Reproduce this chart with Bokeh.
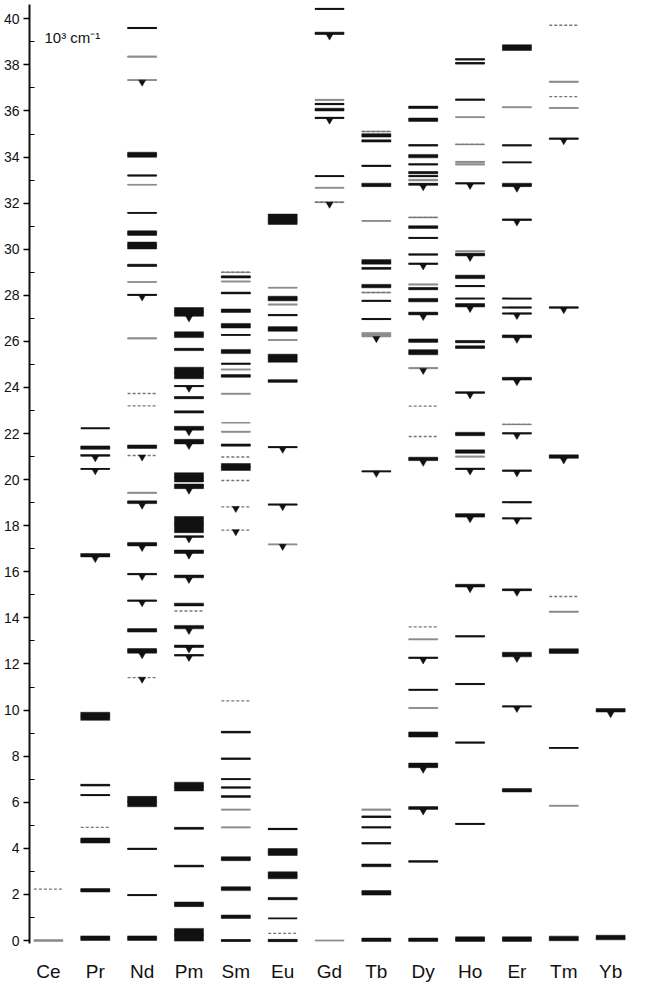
from bokeh.plotting import figure
from bokeh.models import ColumnDataSource, FixedTicker, Label, Range1d
from bokeh.embed import file_html
from bokeh.resources import INLINE

# Ion names (x categories)
ions = ["Ce", "Pr", "Nd", "Pm", "Sm", "Eu", "Gd", "Tb", "Dy", "Ho", "Er", "Tm", "Yb"]

# Levels per ion: (energy 10^3 cm^-1, multiplet spread 10^3 cm^-1, kind, emitting)
# kind: "s" solid, "g" grey, "d" dashed/dotted
Ce = [(0.0, 0.08, "g", 0), (2.23, 0, "d", 0)]
Pr = [(0.1, 0.2, "s", 0), (2.18, 0.15, "s", 0), (4.34, 0.22, "s", 0), (4.91, 0, "d", 0),
      (6.31, 0.05, "s", 0), (6.74, 0.08, "s", 0), (9.73, 0.35, "s", 0), (16.72, 0.15, "s", 1),
      (20.47, 0.03, "s", 1), (21.05, 0.06, "s", 1), (21.39, 0.15, "s", 0), (22.23, 0, "s", 0)]
Nd = [(0.1, 0.2, "s", 0), (1.97, 0.05, "s", 0), (3.98, 0.06, "s", 0), (6.03, 0.45, "s", 0),
      (11.41, 0, "d", 1), (12.57, 0.2, "s", 1), (13.46, 0.15, "s", 0), (14.75, 0.05, "s", 1),
      (15.9, 0.06, "s", 1), (17.2, 0.15, "s", 1), (19.02, 0.12, "s", 1), (19.43, 0.06, "g", 0),
      (21.05, 0, "d", 1), (21.43, 0.15, "s", 0), (23.2, 0, "d", 0), (23.74, 0, "d", 0),
      (26.13, 0.05, "g", 0), (28.02, 0.05, "s", 1), (28.58, 0.03, "g", 0), (29.3, 0.1, "s", 0),
      (30.16, 0.3, "s", 0), (30.7, 0.2, "s", 0), (31.58, 0.03, "s", 0), (32.8, 0.03, "g", 0),
      (33.2, 0.03, "s", 0), (34.1, 0.22, "s", 0), (37.34, 0.04, "g", 1), (38.36, 0.05, "g", 0),
      (39.6, 0.05, "s", 0)]
Pm = [(0.25, 0.55, "s", 0), (1.57, 0.2, "s", 0), (3.23, 0.08, "s", 0), (4.87, 0.08, "s", 0),
      (6.68, 0.38, "s", 0), (12.38, 0.05, "s", 1), (12.77, 0.1, "s", 1), (13.6, 0.15, "s", 1),
      (14.3, 0, "d", 0), (14.58, 0.12, "s", 0), (15.8, 0.12, "s", 1), (16.87, 0.15, "s", 1),
      (17.53, 0.06, "s", 1), (18.05, 0.7, "s", 0), (19.71, 0.2, "s", 1), (20.1, 0.4, "s", 0),
      (21.65, 0.2, "s", 1), (22.23, 0.17, "s", 1), (22.94, 0.1, "s", 0), (23.56, 0.1, "s", 0),
      (24.06, 0.05, "s", 1), (24.63, 0.5, "s", 0), (25.65, 0.1, "s", 0), (26.29, 0.25, "s", 0),
      (27.28, 0.38, "s", 1)]
Sm = [(0.0, 0.08, "s", 0), (1.03, 0.15, "s", 0), (2.25, 0.17, "s", 0), (3.55, 0.17, "s", 0),
      (4.91, 0.03, "g", 0), (5.68, 0.03, "g", 0), (6.25, 0.06, "s", 0), (6.64, 0.05, "s", 0),
      (7.0, 0.04, "s", 0), (7.89, 0.06, "s", 0), (9.04, 0.08, "s", 0), (10.4, 0, "d", 0),
      (17.81, 0, "d", 1), (18.82, 0, "d", 1), (19.96, 0, "d", 0), (20.55, 0.3, "s", 0),
      (20.98, 0, "d", 0), (21.5, 0.1, "s", 0), (22.08, 0.05, "g", 0), (22.47, 0, "g", 0),
      (23.73, 0.05, "g", 0), (24.5, 0.12, "s", 0), (24.78, 0.05, "g", 0), (25.03, 0.03, "s", 0),
      (25.56, 0.18, "s", 0), (26.28, 0.03, "s", 0), (26.68, 0.2, "s", 0), (27.33, 0.15, "s", 0),
      (28.1, 0.08, "s", 0), (28.6, 0.05, "g", 0), (28.8, 0.1, "s", 0), (29.0, 0.03, "d", 0)]
Eu = [(0.0, 0.1, "s", 0), (0.31, 0, "d", 0), (0.96, 0, "s", 0), (1.82, 0.1, "s", 0),
      (2.83, 0.3, "s", 0), (3.84, 0.3, "s", 0), (4.84, 0.06, "s", 0), (17.19, 0.03, "g", 1),
      (18.92, 0.04, "s", 1), (21.41, 0.04, "s", 1), (24.28, 0.12, "s", 0), (25.27, 0.35, "s", 0),
      (26.06, 0.05, "g", 0), (26.54, 0.2, "s", 0), (27.14, 0.06, "s", 0), (27.6, 0.05, "g", 0),
      (27.86, 0.2, "s", 0), (28.33, 0.03, "g", 0), (31.3, 0.45, "s", 0)]
Gd = [(0.0, 0.03, "g", 0), (32.04, 0.04, "d", 1), (32.67, 0.04, "g", 0), (33.17, 0.04, "s", 0),
      (35.7, 0.06, "s", 1), (36.06, 0.12, "s", 0), (36.3, 0.06, "s", 0), (36.48, 0.06, "g", 0),
      (39.37, 0.1, "s", 1), (40.43, 0.05, "s", 0)]
Tb = [(0.03, 0.15, "s", 0), (2.07, 0.2, "s", 0), (3.26, 0.12, "s", 0), (4.22, 0.05, "s", 0),
      (4.91, 0.05, "s", 0), (5.37, 0.06, "s", 0), (5.68, 0.05, "g", 0), (20.36, 0.03, "s", 1),
      (26.29, 0.2, "g", 1), (26.97, 0.05, "s", 0), (27.76, 0.05, "s", 0), (28.12, 0.03, "d", 0),
      (28.4, 0.15, "s", 0), (29.17, 0.08, "s", 0), (29.45, 0.2, "s", 0), (31.23, 0.04, "g", 0),
      (32.79, 0.15, "s", 0), (33.62, 0.06, "s", 0), (34.7, 0.1, "s", 0), (34.94, 0.15, "s", 0),
      (35.11, 0.03, "d", 0)]
Dy = [(0.03, 0.15, "s", 0), (3.43, 0.06, "s", 0), (5.75, 0.12, "s", 1), (7.6, 0.2, "s", 1),
      (8.94, 0.22, "s", 0), (10.09, 0.05, "g", 0), (10.88, 0.04, "s", 0), (12.27, 0.05, "s", 1),
      (13.07, 0.04, "g", 0), (13.61, 0, "d", 0), (20.9, 0.15, "s", 1), (21.87, 0, "d", 0),
      (23.19, 0, "d", 0), (24.84, 0.06, "g", 1), (25.53, 0.22, "s", 0), (26.03, 0.15, "s", 0),
      (27.21, 0.12, "s", 1), (27.79, 0.15, "s", 0), (28.29, 0.1, "s", 0), (28.47, 0.05, "g", 0),
      (29.37, 0.05, "s", 1), (29.77, 0.05, "s", 0), (30.49, 0.05, "s", 0), (30.96, 0.12, "s", 0),
      (31.38, 0.04, "d", 0), (32.82, 0.08, "s", 1), (33.0, 0.08, "g", 0), (33.17, 0.05, "s", 0),
      (33.32, 0.1, "s", 0), (33.68, 0.05, "s", 0), (34.04, 0.15, "s", 0), (34.51, 0.06, "s", 0),
      (35.62, 0.15, "s", 0), (36.16, 0.1, "s", 0)]
Ho = [(0.06, 0.2, "s", 0), (5.06, 0.05, "s", 0), (8.59, 0.05, "s", 0), (11.13, 0.05, "s", 0),
      (13.2, 0.05, "s", 0), (15.4, 0.12, "s", 1), (18.45, 0.15, "s", 1), (20.47, 0.05, "s", 1),
      (21.0, 0.05, "g", 0), (21.22, 0.15, "s", 0), (21.98, 0.15, "s", 0), (23.78, 0.06, "s", 1),
      (25.75, 0.12, "s", 0), (25.99, 0.1, "s", 0), (27.57, 0.15, "s", 1), (27.86, 0.03, "s", 0),
      (28.4, 0.05, "s", 0), (28.8, 0.15, "s", 0), (29.77, 0.12, "s", 1), (29.91, 0.05, "g", 0),
      (32.86, 0.05, "s", 1), (33.68, 0.05, "g", 0), (33.79, 0.05, "g", 0), (34.55, 0.04, "d", 0),
      (35.73, 0.04, "g", 0), (36.49, 0.05, "s", 0), (38.07, 0.06, "s", 0), (38.24, 0.06, "s", 0)]
Er = [(0.06, 0.2, "s", 0), (6.52, 0.15, "s", 0), (10.16, 0.04, "s", 1), (12.41, 0.2, "s", 1),
      (15.22, 0.08, "s", 1), (18.32, 0.04, "s", 1), (19.02, 0.04, "s", 0), (20.39, 0.05, "s", 1),
      (22.01, 0.05, "s", 1), (22.4, 0.03, "d", 0), (24.38, 0.12, "s", 1), (26.22, 0.12, "s", 1),
      (27.21, 0.04, "s", 1), (27.47, 0.03, "s", 0), (27.86, 0.03, "s", 0), (31.28, 0.06, "s", 1),
      (32.79, 0.15, "s", 1), (33.77, 0.03, "s", 0), (34.51, 0.05, "s", 0), (36.16, 0.05, "g", 0),
      (38.75, 0.25, "s", 0)]
Tm = [(0.09, 0.2, "s", 0), (5.85, 0.05, "g", 0), (8.36, 0.03, "s", 0), (12.56, 0.2, "s", 0),
      (14.27, 0.06, "g", 0), (14.93, 0, "d", 0), (21.0, 0.15, "s", 1), (27.47, 0.05, "s", 1),
      (34.8, 0.05, "s", 1), (36.13, 0.05, "g", 0), (36.62, 0, "d", 0), (37.27, 0.06, "g", 0),
      (39.72, 0, "d", 0)]
Yb = [(0.13, 0.2, "s", 0), (9.99, 0.15, "s", 1)]

y_ticks = list(range(0, 41, 2))
y_minor = list(range(1, 41, 2))

levels = [Ce, Pr, Nd, Pm, Sm, Eu, Gd, Tb, Dy, Ho, Er, Tm, Yb]

HALF = 0.31
styles = {"s": dict(color="#111111", dash="solid", lw=1.8),
          "g": dict(color="#8c8c8c", dash="solid", lw=1.6),
          "d": dict(color="#777777", dash="3 2", lw=1.4)}

p = figure(width=649, height=984, x_range=Range1d(-0.404, 12.574), y_range=Range1d(-0.13, 40.62),
           output_backend="svg", toolbar_location=None, title=None,
           min_border_left=27, min_border_right=12, min_border_top=4, min_border_bottom=35)
p.outline_line_color = None
p.grid.visible = False
p.background_fill_color = "white"

for kind, st in styles.items():
    seg = dict(x0=[], x1=[], y=[])
    qd = dict(left=[], right=[], top=[], bottom=[])
    for i, lv in enumerate(levels):
        for (e, s, k, f) in lv:
            if k != kind:
                continue
            seg["x0"].append(i - HALF); seg["x1"].append(i + HALF); seg["y"].append(e)
            if s > 0:
                qd["left"].append(i - HALF); qd["right"].append(i + HALF)
                qd["top"].append(e + s / 2); qd["bottom"].append(e - s / 2)
    if qd["left"]:
        p.quad(source=ColumnDataSource(qd), left="left", right="right", top="top", bottom="bottom",
               fill_color=st["color"], line_color=st["color"], line_width=0.5)
    p.segment(source=ColumnDataSource(seg), x0="x0", y0="y", x1="x1", y1="y",
              line_color=st["color"], line_width=st["lw"], line_dash=st["dash"])

mk = dict(x=[], y=[])
for i, lv in enumerate(levels):
    for (e, s, k, f) in lv:
        if f:
            mk["x"].append(i); mk["y"].append(e - s / 2 - 0.07)
p.scatter(source=ColumnDataSource(mk), x="x", y="y", marker="inverted_triangle", size=7,
          fill_color="#111111", line_color="#111111", line_width=0.5)

ya = p.yaxis[0]
ya.ticker = FixedTicker(ticks=y_ticks, minor_ticks=y_minor)
ya.axis_line_width = 2
ya.axis_line_color = "#111111"
ya.major_tick_out = 6
ya.major_tick_in = 0
ya.major_tick_line_width = 1.5
ya.minor_tick_in = 5
ya.minor_tick_out = 0
ya.minor_tick_line_width = 1.2
ya.major_label_text_font = "Liberation Sans"
ya.major_label_text_font_size = "14px"
ya.major_label_text_color = "#111111"
ya.major_label_standoff = 4

xa = p.xaxis[0]
xa.ticker = FixedTicker(ticks=list(range(len(ions))))
xa.major_label_overrides = {i: n for i, n in enumerate(ions)}
xa.axis_line_color = None
xa.major_tick_line_color = None
xa.minor_tick_line_color = None
xa.major_label_text_font = "Liberation Sans"
xa.major_label_text_font_size = "19px"
xa.major_label_text_color = "#111111"
xa.major_label_standoff = 11

p.add_layout(Label(x=-0.085, y=39.2, text="10³ cm⁻¹", text_font="Liberation Sans",
                   text_font_size="15px", text_baseline="middle", text_align="left",
                   text_color="#111111"))

open("out.html", "w").write(file_html(p, INLINE))
